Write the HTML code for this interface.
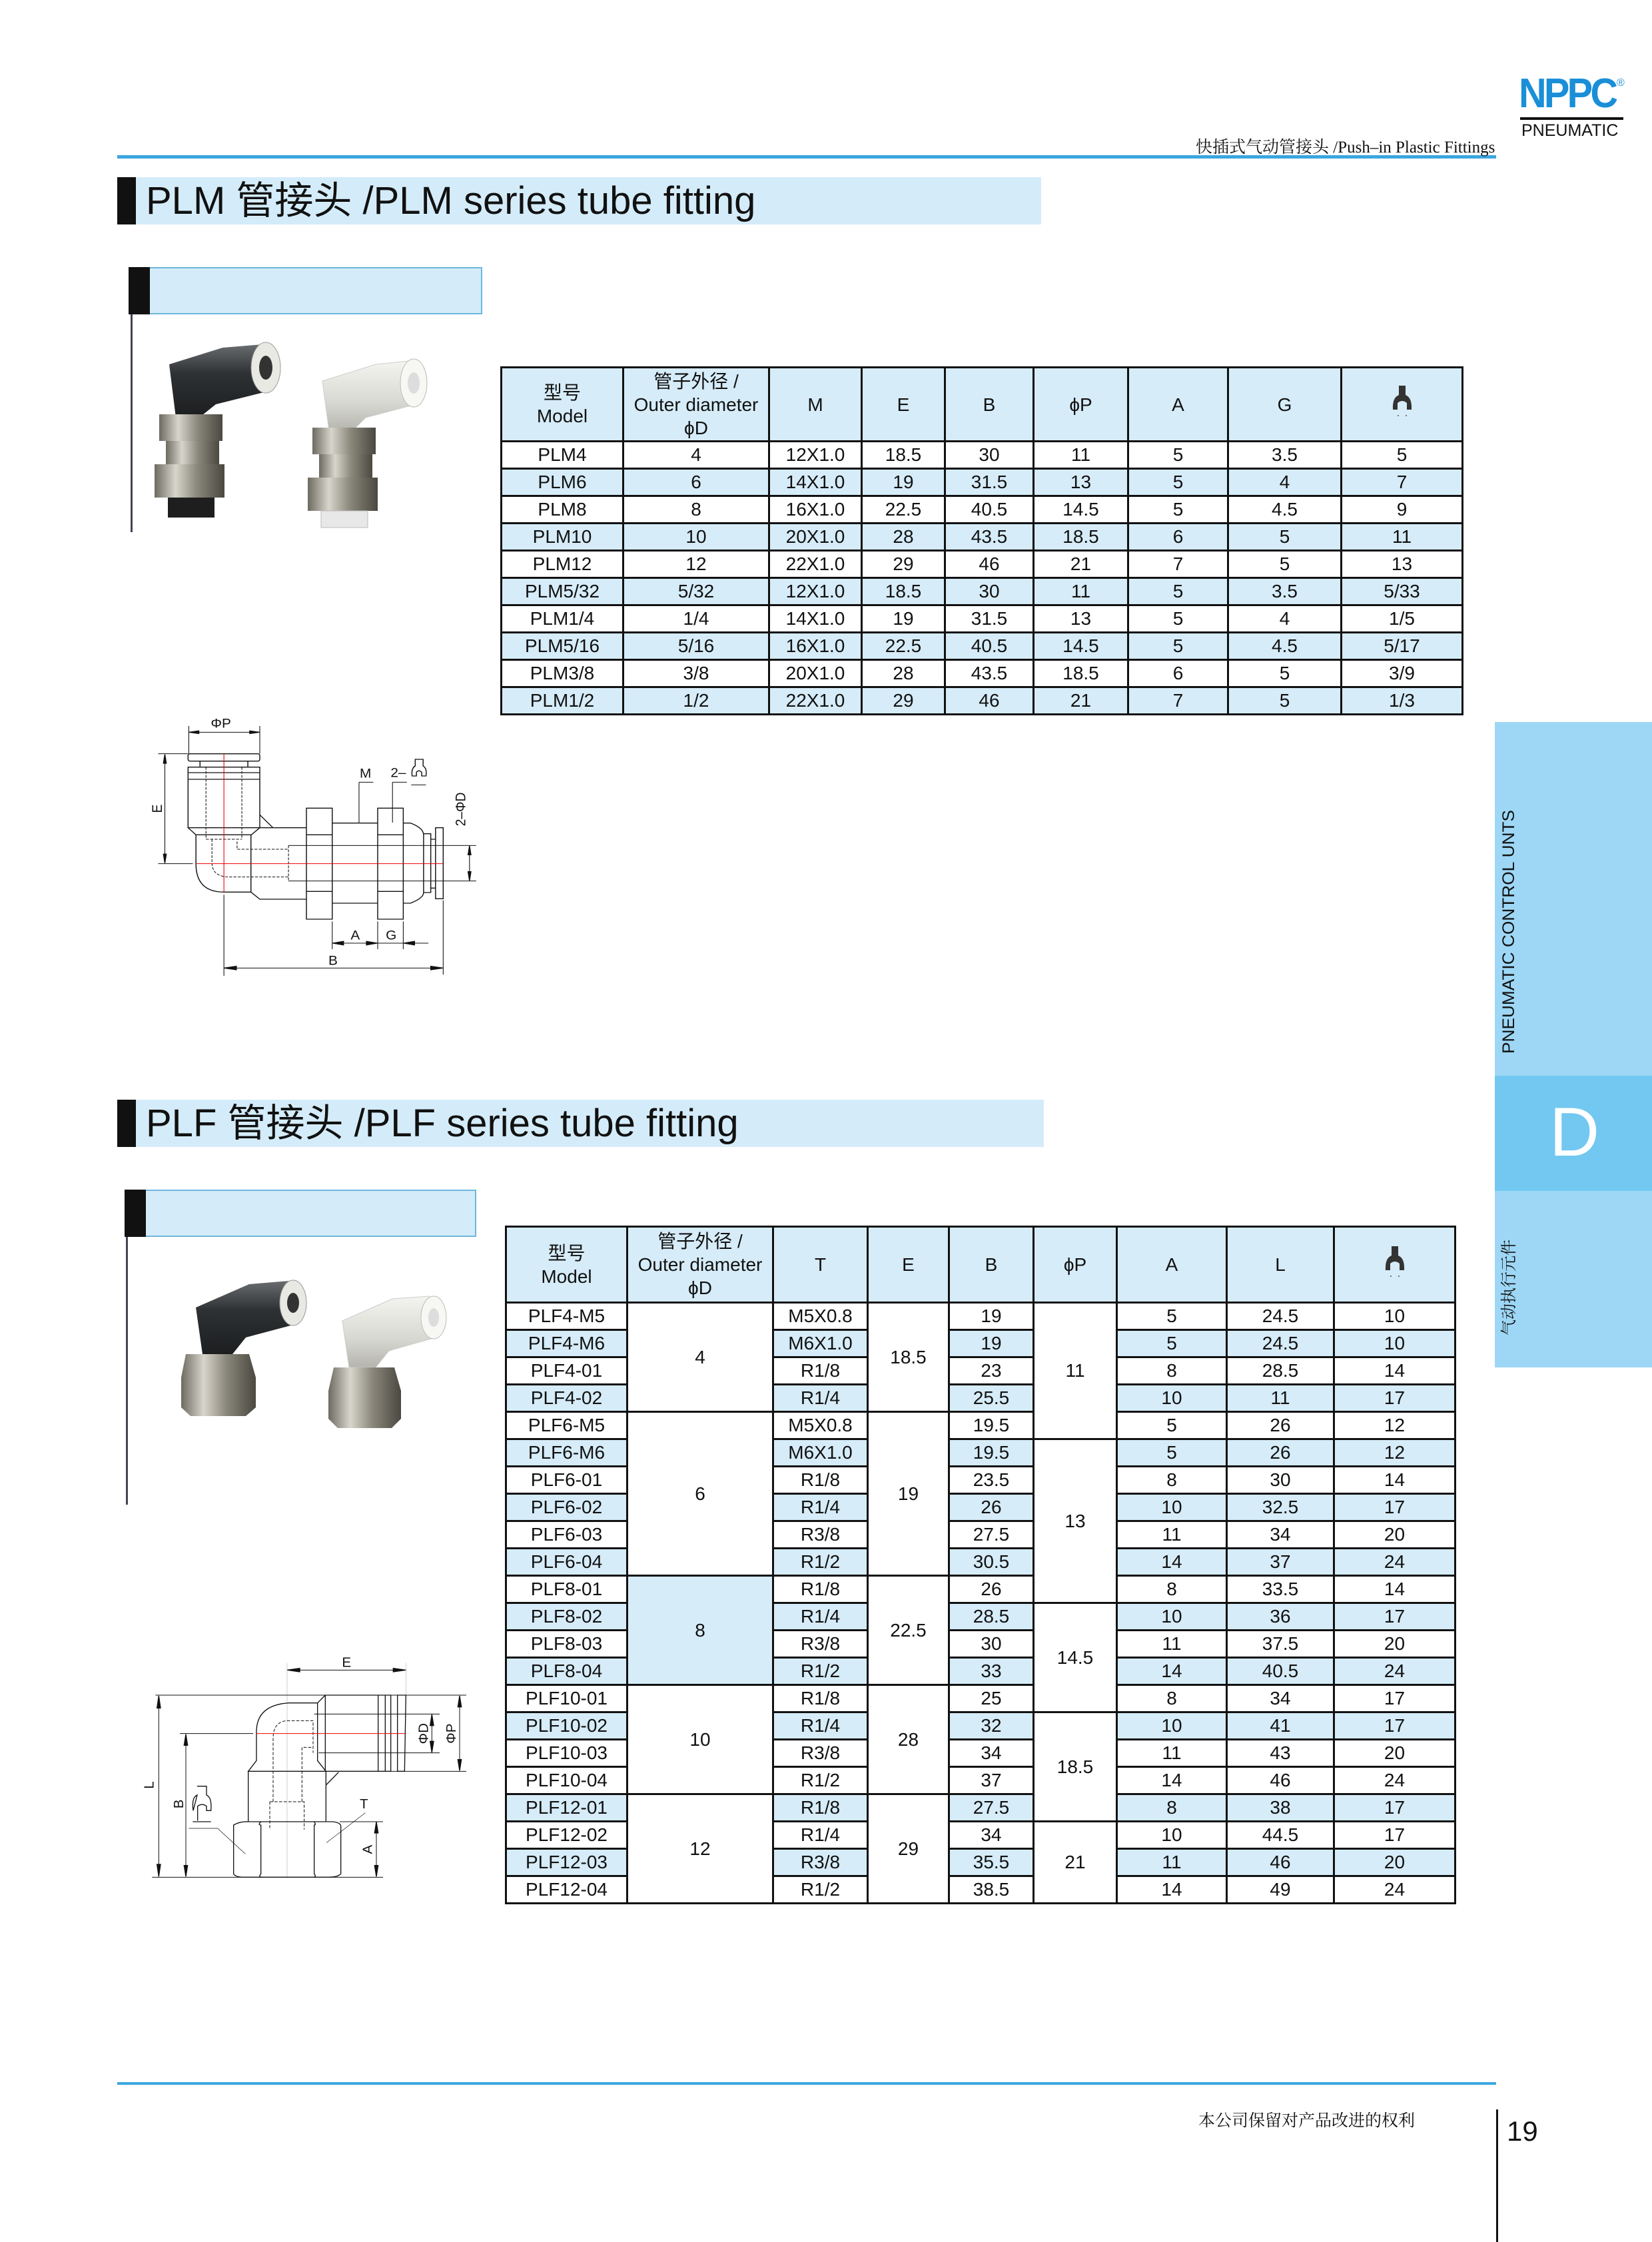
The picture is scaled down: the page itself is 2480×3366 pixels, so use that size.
<!DOCTYPE html>
<html><head><meta charset="utf-8">
<style>
*{margin:0;padding:0;box-sizing:border-box}
body{width:2480px;height:3366px;position:relative;background:#fff;font-family:"Liberation Sans","Noto Sans CJK SC",sans-serif;color:#111;overflow:hidden}
.abs{position:absolute}
table{border-collapse:collapse;table-layout:fixed;position:absolute}
td{border:3px solid #111;text-align:center;vertical-align:middle;font-size:28px;line-height:1;padding:0;white-space:nowrap}
td.hd{background:#d6ecf8;line-height:1.25}
tr.b td.al,td.bl{background:#d6ecf8}
.title{position:absolute;background:#d4ecf9;height:71px}
.title .blk{position:absolute;left:0;top:0;width:28px;height:71px;background:#111}
.title .t{position:absolute;left:43px;top:4px;font-size:58px;line-height:63px;white-space:nowrap}
.sub{position:absolute;background:#d4ecf9;border:2px solid #6fb6dd;height:71px}
.sub .blk{position:absolute;left:-2px;top:-2px;width:32px;height:71px;background:#111}
</style></head><body>

<!-- header -->
<div class="abs" style="left:176px;top:233px;width:2070px;height:5px;background:#3aa6df"></div>
<div class="abs" style="left:1795px;top:201px;font-family:'Liberation Serif','Noto Serif CJK SC',serif;font-size:25px;white-space:nowrap">快插式气动管接头 /Push–in Plastic Fittings</div>
<div class="abs" style="left:2280px;top:108px;font-size:62px;font-weight:bold;color:#1a8fd8;letter-spacing:-4px;transform:scaleX(0.93);transform-origin:left;line-height:66px">NPPC</div>
<div class="abs" style="left:2427px;top:116px;font-size:16px;color:#1a8fd8">®</div>
<div class="abs" style="left:2282px;top:176px;width:155px;height:4px;background:#111"></div>
<div class="abs" style="left:2284px;top:182px;font-size:25px;line-height:28px">PNEUMATIC</div>

<!-- title 1 -->
<div class="title" style="left:176px;top:266px;width:1387px"><div class="blk"></div><div class="t">PLM 管接头 /PLM series tube fitting</div></div>
<div class="sub" style="left:193px;top:401px;width:531px"><div class="blk"></div></div>
<div class="abs" style="left:196px;top:472px;width:3px;height:327px;background:#445"></div>

<!-- photo 1 -->
<svg class="abs" style="left:204px;top:477px" width="520" height="322" viewBox="0 0 520 322">
<defs>
<linearGradient id="dk" x1="0" y1="0" x2="0" y2="1"><stop offset="0" stop-color="#6a6d70"/><stop offset=".4" stop-color="#2e3133"/><stop offset="1" stop-color="#1c1e20"/></linearGradient>
<linearGradient id="met" x1="0" y1="0" x2="1" y2="0"><stop offset="0" stop-color="#6d6a60"/><stop offset=".3" stop-color="#d8d6cc"/><stop offset=".6" stop-color="#8b887c"/><stop offset="1" stop-color="#4a4840"/></linearGradient>
<linearGradient id="wt" x1="0" y1="0" x2="0" y2="1"><stop offset="0" stop-color="#f4f4f0"/><stop offset=".6" stop-color="#d8d8d2"/><stop offset="1" stop-color="#b5b5ae"/></linearGradient>
</defs>
<rect x="0" y="0" width="520" height="322" fill="#ffffff"/>
<path d="M50 70 L130 45 L190 40 L200 110 L120 130 L95 150 L60 150 Z" fill="url(#dk)"/>
<ellipse cx="195" cy="75" rx="22" ry="38" fill="#e9e9e4" stroke="#999"/>
<ellipse cx="195" cy="75" rx="10" ry="18" fill="#333"/>
<rect x="35" y="145" width="95" height="40" fill="url(#met)"/>
<rect x="45" y="185" width="80" height="35" fill="url(#met)"/>
<rect x="28" y="220" width="105" height="50" fill="url(#met)"/>
<rect x="48" y="270" width="70" height="30" fill="#1e1e1e"/>
<path d="M280 95 L360 70 L410 65 L420 130 L345 150 L325 170 L290 170 Z" fill="url(#wt)" stroke="#ccc"/>
<ellipse cx="417" cy="98" rx="20" ry="36" fill="#f7f7f3" stroke="#bbb"/>
<ellipse cx="417" cy="98" rx="9" ry="16" fill="#ddd"/>
<rect x="265" y="165" width="95" height="40" fill="url(#met)"/>
<rect x="275" y="205" width="80" height="35" fill="url(#met)"/>
<rect x="258" y="240" width="105" height="50" fill="url(#met)"/>
<rect x="278" y="290" width="70" height="25" fill="#e8e8e8" stroke="#bbb"/>
</svg>

<!-- drawing 1 -->
<svg class="abs" style="left:180px;top:1050px" width="560" height="430" viewBox="0 0 1560 1290" preserveAspectRatio="none" fill="none" stroke="#111" stroke-width="4">
<g font-family="Liberation Sans" fill="#111" stroke="none" font-size="58">
<text x="380" y="128">ΦP</text><text x="1003" y="352">M</text><text x="1132" y="350">2–</text>
<text x="965" y="1082">A</text><text x="1112" y="1082">G</text><text x="872" y="1195">B</text>
<text transform="translate(175,492) rotate(-90)" text-anchor="middle">E</text>
<text transform="translate(1445,495) rotate(-90)" text-anchor="middle">2–ΦD</text>
</g>
<path d="M288 120V245M585 120V245M288 148H585M160 245H285M160 740H305M188 248V737M1462 660V816M705 658H1490M705 818H1490" stroke-width="3"/>
<path d="M290 148l40-6v12zM583 148l-40-6v12zM188 248l-6 40h12zM188 737l-6-40h12zM1462 660l-6 40h12zM1462 816l-6-40h12z" fill="#111"/>
<rect x="285" y="245" width="300" height="33" rx="8"/>
<path d="M335 278V305M535 278V305M285 305H585V578H285ZM285 330H585M285 360H585"/>
<path d="M360 305V630M510 305V630M360 630H510M490 640V675H705M385 630V735Q385 800 460 800H705M705 658V818" stroke-dasharray="12 6" stroke-width="3"/>
<path d="M285 578L318 610H550L585 578M318 610V740Q318 868 435 868H548L585 900H780M548 610V868M585 578H780M585 520L640 578"/>
<path d="M780 490H888V990H780ZM780 610H888M780 865H888M888 557H1078V918H888ZM1078 490H1185V990H1078ZM1078 610H1185M1078 865H1185M1185 557H1215Q1270 580 1270 610V870Q1270 895 1215 918H1185M1270 605H1300V870H1270M1300 630H1320V850H1300M1320 578H1352V898H1320Z"/>
<path d="M435 245V868M318 740H1352" stroke="#e00" stroke-width="3"/>
<path d="M1000 373H1060M1000 373V555M1140 373H1200M1140 373V555M1218 385H1280" stroke-width="3"/>
<path d="M1235 270H1268V300Q1285 310 1280 345H1262V328Q1250 315 1240 328V345H1222Q1218 310 1235 300Z" stroke-width="4"/>
<path d="M888 1000V1125M1078 1000V1125M1185 1000V1125M888 1098H1290M435 880V1245M1352 905V1240M435 1210H1352" stroke-width="3"/>
<path d="M890 1098l45-8v16zM1076 1098l-45-8v16zM1187 1098l45-8v16zM437 1210l50-8v16zM1350 1210l-50-8v16z" fill="#111"/>
</svg>

<!-- table 1 -->
<table style="left:751px;top:550px;width:1443px">
<colgroup><col style="width:183px"><col style="width:219px"><col style="width:139px"><col style="width:125px"><col style="width:133px"><col style="width:142px"><col style="width:150px"><col style="width:170px"><col style="width:182px"></colgroup>
<tr style="height:111px"><td class="hd">型号<br>Model</td><td class="hd">管子外径 /<br>Outer diameter<br>ϕD</td><td class="hd">M</td><td class="hd">E</td><td class="hd">B</td><td class="hd">ϕP</td><td class="hd">A</td><td class="hd">G</td><td class="hd"><svg width="30" height="48" viewBox="0 0 30 48"><path d="M10 0H20V14Q30 18 29 36H22V26Q15 20 8 26V36H1Q0 18 10 14Z" fill="#333"/><circle cx="9" cy="45" r="1" fill="#555"/><circle cx="21" cy="45" r="1" fill="#555"/></svg></td></tr>
<tr style="height:41px"><td>PLM4</td><td>4</td><td>12X1.0</td><td>18.5</td><td>30</td><td>11</td><td>5</td><td>3.5</td><td>5</td></tr>
<tr style="height:41px" class="b"><td class="bl">PLM6</td><td class="bl">6</td><td class="bl">14X1.0</td><td class="bl">19</td><td class="bl">31.5</td><td class="bl">13</td><td class="bl">5</td><td class="bl">4</td><td class="bl">7</td></tr>
<tr style="height:41px"><td>PLM8</td><td>8</td><td>16X1.0</td><td>22.5</td><td>40.5</td><td>14.5</td><td>5</td><td>4.5</td><td>9</td></tr>
<tr style="height:41px"><td class="bl">PLM10</td><td class="bl">10</td><td class="bl">20X1.0</td><td class="bl">28</td><td class="bl">43.5</td><td class="bl">18.5</td><td class="bl">6</td><td class="bl">5</td><td class="bl">11</td></tr>
<tr style="height:41px"><td>PLM12</td><td>12</td><td>22X1.0</td><td>29</td><td>46</td><td>21</td><td>7</td><td>5</td><td>13</td></tr>
<tr style="height:41px"><td class="bl">PLM5/32</td><td class="bl">5/32</td><td class="bl">12X1.0</td><td class="bl">18.5</td><td class="bl">30</td><td class="bl">11</td><td class="bl">5</td><td class="bl">3.5</td><td class="bl">5/33</td></tr>
<tr style="height:41px"><td>PLM1/4</td><td>1/4</td><td>14X1.0</td><td>19</td><td>31.5</td><td>13</td><td>5</td><td>4</td><td>1/5</td></tr>
<tr style="height:41px"><td class="bl">PLM5/16</td><td class="bl">5/16</td><td class="bl">16X1.0</td><td class="bl">22.5</td><td class="bl">40.5</td><td class="bl">14.5</td><td class="bl">5</td><td class="bl">4.5</td><td class="bl">5/17</td></tr>
<tr style="height:41px"><td>PLM3/8</td><td>3/8</td><td>20X1.0</td><td>28</td><td>43.5</td><td>18.5</td><td>6</td><td>5</td><td>3/9</td></tr>
<tr style="height:41px"><td class="bl">PLM1/2</td><td class="bl">1/2</td><td class="bl">22X1.0</td><td class="bl">29</td><td class="bl">46</td><td class="bl">21</td><td class="bl">7</td><td class="bl">5</td><td class="bl">1/3</td></tr>
</table>

<!-- title 2 -->
<div class="title" style="left:176px;top:1651px;width:1391px"><div class="blk"></div><div class="t">PLF 管接头 /PLF series tube fitting</div></div>
<div class="sub" style="left:187px;top:1786px;width:528px"><div class="blk"></div></div>
<div class="abs" style="left:189px;top:1857px;width:3px;height:402px;background:#445"></div>

<!-- photo 2 -->
<svg class="abs" style="left:204px;top:1868px" width="505" height="322" viewBox="0 0 505 322">
<rect width="505" height="322" fill="#ffffff"/>
<path d="M90 95 L170 60 L230 55 L240 120 L165 140 L145 165 L100 165 Z" fill="url(#dk)"/>
<ellipse cx="236" cy="88" rx="20" ry="34" fill="#e9e9e4" stroke="#999"/>
<ellipse cx="236" cy="88" rx="9" ry="15" fill="#333"/>
<path d="M75 165H170L180 200V245L165 258H82L68 245V200Z" fill="url(#met)"/>
<path d="M310 115 L385 82 L440 78 L450 140 L380 160 L360 185 L320 185 Z" fill="url(#wt)" stroke="#ccc"/>
<ellipse cx="447" cy="110" rx="19" ry="32" fill="#f7f7f3" stroke="#bbb"/>
<ellipse cx="447" cy="110" rx="8" ry="14" fill="#ddd"/>
<path d="M297 185H388L398 220V262L384 276H303L289 262V220Z" fill="url(#met)"/>
</svg>

<!-- drawing 2 -->
<svg class="abs" style="left:200px;top:2450px" width="520" height="400" viewBox="0 0 1560 1200" preserveAspectRatio="none" fill="none" stroke="#111" stroke-width="4">
<g font-family="Liberation Sans" fill="#111" stroke="none" font-size="62">
<text x="940" y="158">E</text><text x="1020" y="795">T</text>
<text transform="translate(92,690) rotate(-90)" text-anchor="middle">L</text>
<text transform="translate(225,775) rotate(-90)" text-anchor="middle">B</text>
<text transform="translate(1075,980) rotate(-90)" text-anchor="middle">A</text>
<text transform="translate(1328,458) rotate(-90)" text-anchor="middle">ΦD</text>
<text transform="translate(1452,458) rotate(-90)" text-anchor="middle">ΦP</text>
</g>
<path d="M693 140V1105M1228 140V285" stroke="#bbb" stroke-width="2"/>
<path d="M693 172H1228M100 285H1500M1160 628H1500M210 458H540M115 288V1102M237 461V1102M1345 370V545M1470 288V625M1095 856V1102M85 1105H1125M930 855H1125M815 370H1380M835 545H1380" stroke-width="3"/>
<path d="M695 172l55-8v16zM1226 172l-55-8v16zM115 288l-8 55h16zM115 1102l-8-55h16zM237 461l-8 50h16zM237 1102l-8-50h16zM1345 372l-8 50h16zM1345 543l-8-50h16zM1470 288l-8 50h16zM1470 625l-8-50h16zM1095 856l-8 50h16zM1095 1102l-8-50h16z" fill="#111"/>
<path d="M865 285H1160V628H865ZM1103 285V628M1135 285V628M1190 285H1228L1222 628H1190Z"/>
<path d="M865 285L830 320H700Q555 330 555 450V580L518 628H868L830 580V320"/>
<path d="M518 628V853M868 628V853M868 690L925 632"/>
<path d="M452 870Q480 853 520 855H900Q935 860 935 875V1090Q920 1105 880 1105H500Q460 1105 452 1090ZM575 855Q560 870 575 870V1090Q565 1100 575 1105M815 855Q825 870 815 870V1090Q825 1100 815 1105"/>
<path d="M615 765H770V890M615 765V890M630 765V480Q630 400 700 400H810V545M760 765V520H810" stroke-dasharray="14 7" stroke-width="3"/>
<path d="M555 458H1228" stroke="#e00" stroke-width="3"/>
<path d="M1045 815L870 950M250 885H380L505 1000" stroke-width="2"/>
<path d="M288 695H330V735Q355 745 350 805H330V785Q310 770 290 785V850M270 805Q262 745 288 735Z" stroke-width="4"/>
<path d="M268 855H350"/>
</svg>

<!-- table 2 -->
<table style="left:758px;top:1840px;width:1425px">
<colgroup><col style="width:182px"><col style="width:219px"><col style="width:142px"><col style="width:122px"><col style="width:127px"><col style="width:125px"><col style="width:165px"><col style="width:161px"><col style="width:182px"></colgroup>
<tr style="height:114px"><td class="hd">型号<br>Model</td><td class="hd">管子外径 /<br>Outer diameter<br>ϕD</td><td class="hd">T</td><td class="hd">E</td><td class="hd">B</td><td class="hd">ϕP</td><td class="hd">A</td><td class="hd">L</td><td class="hd"><svg width="30" height="48" viewBox="0 0 30 48"><path d="M10 0H20V14Q30 18 29 36H22V26Q15 20 8 26V36H1Q0 18 10 14Z" fill="#333"/><circle cx="9" cy="45" r="1" fill="#555"/><circle cx="21" cy="45" r="1" fill="#555"/></svg></td></tr>
<tr style="height:41px"><td>PLF4-M5</td><td rowspan="4">4</td><td>M5X0.8</td><td rowspan="4">18.5</td><td>19</td><td rowspan="5">11</td><td>5</td><td>24.5</td><td>10</td></tr>
<tr style="height:41px"><td class="bl">PLF4-M6</td><td class="bl">M6X1.0</td><td class="bl">19</td><td class="bl">5</td><td class="bl">24.5</td><td class="bl">10</td></tr>
<tr style="height:41px"><td>PLF4-01</td><td>R1/8</td><td>23</td><td>8</td><td>28.5</td><td>14</td></tr>
<tr style="height:41px"><td class="bl">PLF4-02</td><td class="bl">R1/4</td><td class="bl">25.5</td><td class="bl">10</td><td class="bl">11</td><td class="bl">17</td></tr>
<tr style="height:41px"><td>PLF6-M5</td><td rowspan="6">6</td><td>M5X0.8</td><td rowspan="6">19</td><td>19.5</td><td>5</td><td>26</td><td>12</td></tr>
<tr style="height:41px"><td class="bl">PLF6-M6</td><td class="bl">M6X1.0</td><td class="bl">19.5</td><td rowspan="6">13</td><td class="bl">5</td><td class="bl">26</td><td class="bl">12</td></tr>
<tr style="height:41px"><td>PLF6-01</td><td>R1/8</td><td>23.5</td><td>8</td><td>30</td><td>14</td></tr>
<tr style="height:41px"><td class="bl">PLF6-02</td><td class="bl">R1/4</td><td class="bl">26</td><td class="bl">10</td><td class="bl">32.5</td><td class="bl">17</td></tr>
<tr style="height:41px"><td>PLF6-03</td><td>R3/8</td><td>27.5</td><td>11</td><td>34</td><td>20</td></tr>
<tr style="height:41px"><td class="bl">PLF6-04</td><td class="bl">R1/2</td><td class="bl">30.5</td><td class="bl">14</td><td class="bl">37</td><td class="bl">24</td></tr>
<tr style="height:41px"><td>PLF8-01</td><td rowspan="4" class="bl">8</td><td>R1/8</td><td rowspan="4">22.5</td><td>26</td><td>8</td><td>33.5</td><td>14</td></tr>
<tr style="height:41px"><td class="bl">PLF8-02</td><td class="bl">R1/4</td><td class="bl">28.5</td><td rowspan="4">14.5</td><td class="bl">10</td><td class="bl">36</td><td class="bl">17</td></tr>
<tr style="height:41px"><td>PLF8-03</td><td>R3/8</td><td>30</td><td>11</td><td>37.5</td><td>20</td></tr>
<tr style="height:41px"><td class="bl">PLF8-04</td><td class="bl">R1/2</td><td class="bl">33</td><td class="bl">14</td><td class="bl">40.5</td><td class="bl">24</td></tr>
<tr style="height:41px"><td>PLF10-01</td><td rowspan="4">10</td><td>R1/8</td><td rowspan="4">28</td><td>25</td><td>8</td><td>34</td><td>17</td></tr>
<tr style="height:41px"><td class="bl">PLF10-02</td><td class="bl">R1/4</td><td class="bl">32</td><td rowspan="4">18.5</td><td class="bl">10</td><td class="bl">41</td><td class="bl">17</td></tr>
<tr style="height:41px"><td>PLF10-03</td><td>R3/8</td><td>34</td><td>11</td><td>43</td><td>20</td></tr>
<tr style="height:41px"><td>PLF10-04</td><td>R1/2</td><td>37</td><td>14</td><td>46</td><td>24</td></tr>
<tr style="height:41px"><td class="bl">PLF12-01</td><td rowspan="4">12</td><td class="bl">R1/8</td><td rowspan="4">29</td><td class="bl">27.5</td><td class="bl">8</td><td class="bl">38</td><td class="bl">17</td></tr>
<tr style="height:41px"><td>PLF12-02</td><td>R1/4</td><td>34</td><td rowspan="3">21</td><td>10</td><td>44.5</td><td>17</td></tr>
<tr style="height:41px"><td class="bl">PLF12-03</td><td class="bl">R3/8</td><td class="bl">35.5</td><td class="bl">11</td><td class="bl">46</td><td class="bl">20</td></tr>
<tr style="height:41px"><td>PLF12-04</td><td>R1/2</td><td>38.5</td><td>14</td><td>49</td><td>24</td></tr>
</table>

<!-- side bar -->
<div class="abs" style="left:2244px;top:1084px;width:236px;height:531px;background:#9dd7f5"></div>
<div class="abs" style="left:2244px;top:1615px;width:236px;height:173px;background:#72c8f0"></div>
<div class="abs" style="left:2244px;top:1788px;width:236px;height:265px;background:#9dd7f5"></div>
<div class="abs" style="left:2252px;top:1582px;transform-origin:left top;font-size:25px;line-height:26px;white-space:nowrap;transform:rotate(-90deg) scaleX(1.05)">PNEUMATIC CONTROL UNTS</div>
<div class="abs" style="left:2326px;top:1645px;font-size:104px;line-height:110px;color:#fff">D</div>
<div class="abs" style="left:2253px;top:2005px;transform:rotate(-90deg);transform-origin:left top;font-family:'Liberation Serif','Noto Serif CJK SC',serif;font-size:24px;line-height:26px;white-space:nowrap">气动执行元件</div>

<!-- footer -->
<div class="abs" style="left:176px;top:3126px;width:2070px;height:4px;background:#3aa6df"></div>
<div class="abs" style="left:1799px;top:3164px;font-family:'Liberation Serif','Noto Serif CJK SC',serif;font-size:25px;white-space:nowrap">本公司保留对产品改进的权利</div>
<div class="abs" style="left:2246px;top:3167px;width:3px;height:199px;background:#111"></div>
<div class="abs" style="left:2262px;top:3176px;font-size:42px">19</div>
</body></html>
